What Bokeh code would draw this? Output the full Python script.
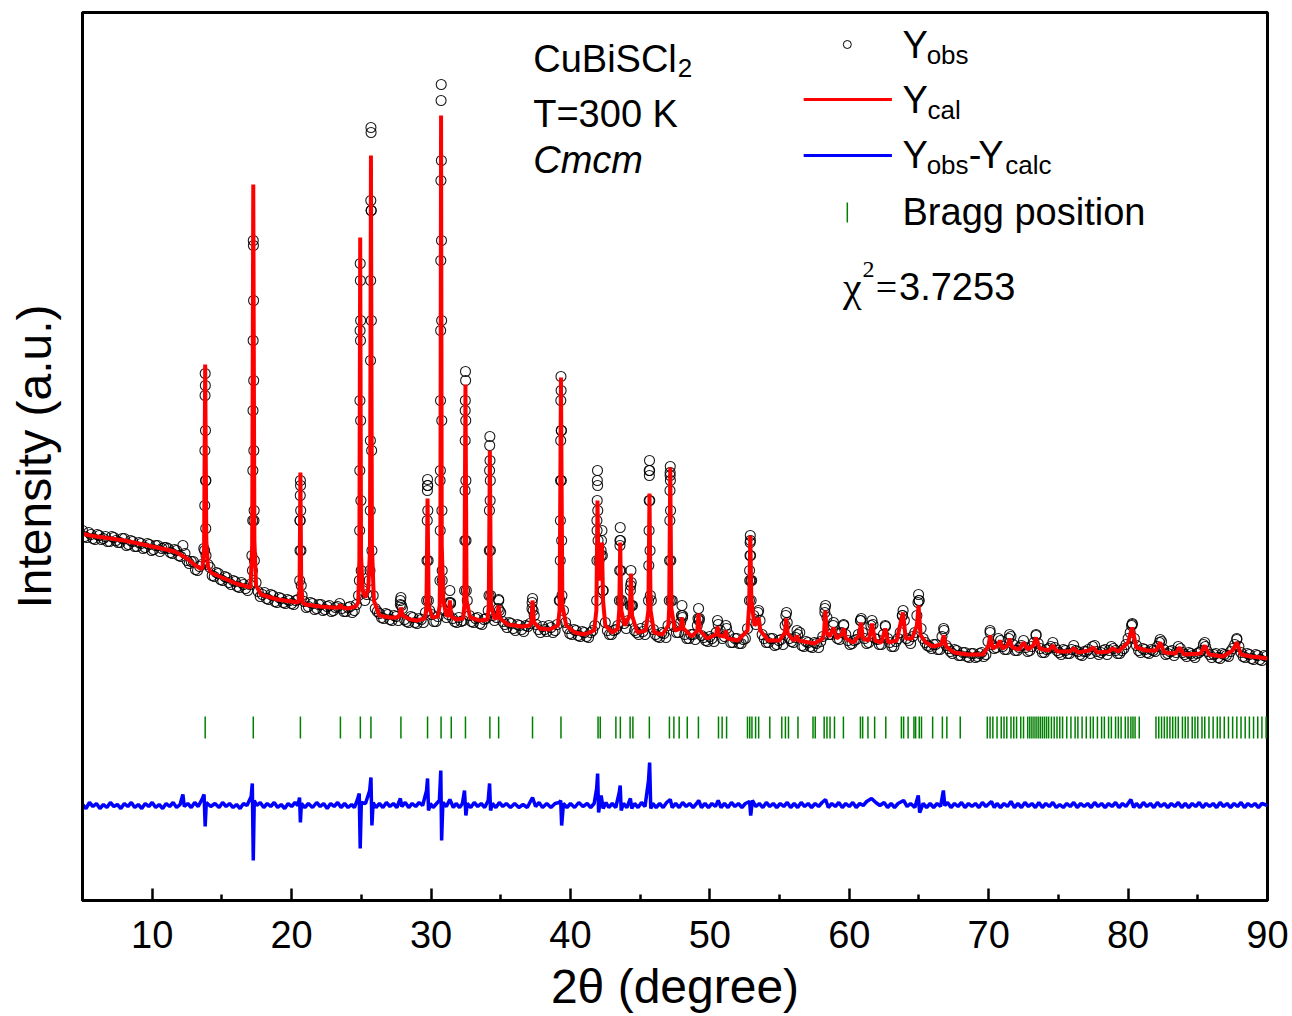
from bokeh.plotting import figure
from bokeh.models import Range1d, FixedTicker, Label
from bokeh.embed import file_html
from bokeh.resources import INLINE

SANS = "Liberation Sans"
SERIF = "Liberation Serif"

# ---------------- data ----------------
# observed step scan A (2theta start / step, intensities in a.u.)
scan_a_start = 5.0
scan_step = 0.3
y_obs_scan_a = [
    370, 363, 366, 361, 365, 362, 359, 364, 360, 358,
    362, 356, 359, 354, 357, 353, 356, 351, 355, 352,
    353, 348, 351, 345, 355, 340, 339, 331, 334, 352,
    336, 325, 328, 321, 324, 318, 320, 314, 318, 312,
    316, 380, 309, 306, 302, 306, 299, 303, 298, 301,
    297, 300, 380, 299, 294, 297, 292, 296, 291, 295,
    290, 294, 292, 289, 294, 290, 305, 310, 306, 690,
    292, 287, 282, 286, 280, 284, 300, 281, 278, 283,
    277, 281, 288, 290, 279, 284, 330, 283, 298, 279,
    283, 280, 300, 279, 282, 277, 281, 290, 285, 283,
    288, 276, 278, 272, 276, 271, 275, 277, 285, 271,
    274, 269, 273, 270, 300, 290, 272, 266, 270, 264,
    268, 263, 270, 380, 345, 278, 266, 270, 275, 300,
    272, 310, 270, 266, 269, 275, 300, 266, 263, 267,
    275, 300, 268, 278, 266, 262, 266, 275, 265, 260,
    264, 259, 276, 262, 272, 258, 262, 257, 261, 272,
    320, 276, 280, 262, 258, 262, 256, 261, 275, 262,
    258, 266, 255, 259, 254, 258, 253, 264, 283, 266,
    268, 261, 276, 260, 257, 261, 280, 262, 258, 276,
    261, 256, 274, 258, 254, 262, 285, 262, 257, 268,
    300, 262, 255, 252, 256, 251, 270, 252, 247, 250,
    245, 248, 243, 247, 244, 248, 246, 268, 252, 262,
    254, 251, 264, 250, 253, 260, 249, 254, 265, 252,
    248, 252, 258, 250, 246, 250, 247, 255, 249, 245,
    249, 247, 255, 246, 250, 246, 254, 250, 247, 252,
    262, 276, 255, 248, 251, 247, 250, 254, 259, 246,
    249, 245, 254, 248, 244, 247, 243, 248, 256, 249,
    243, 247, 242, 246, 244, 252, 261, 248, 243, 246,
    241, 245, 240, 244,
]

# observed step scan B (interleaved points, same step)
scan_b_start = 5.15
y_obs_scan_b = [
    364, 368, 362, 366, 361, 364, 359, 363, 358, 362,
    355, 360, 354, 358, 352, 357, 350, 355, 349, 353,
    352, 347, 350, 344, 347, 337, 339, 330, 336, 420,
    333, 324, 327, 320, 323, 316, 319, 313, 316, 310,
    345, 318, 304, 308, 301, 305, 298, 302, 297, 300,
    296, 301, 305, 293, 298, 291, 296, 290, 294, 289,
    293, 297, 289, 293, 288, 296, 580, 300, 320, 305,
    289, 283, 287, 281, 285, 280, 292, 279, 284, 278,
    282, 278, 415, 286, 279, 420, 290, 286, 282, 278,
    279, 490, 285, 278, 283, 276, 282, 420, 280, 301,
    279, 273, 277, 270, 275, 269, 274, 298, 276, 268,
    271, 275, 268, 276, 470, 278, 267, 271, 265, 269,
    264, 268, 275, 340, 310, 270, 266, 271, 360, 277,
    280, 295, 268, 272, 266, 430, 271, 264, 268, 263,
    425, 274, 268, 285, 262, 266, 261, 282, 263, 259,
    262, 268, 270, 264, 266, 258, 262, 257, 262, 330,
    285, 288, 266, 258, 262, 255, 260, 256, 278, 259,
    263, 268, 254, 258, 253, 257, 259, 288, 266, 275,
    262, 268, 266, 256, 260, 266, 268, 257, 275, 262,
    256, 266, 262, 254, 259, 268, 280, 260, 264, 285,
    272, 258, 254, 256, 251, 264, 255, 249, 251, 245,
    248, 244, 247, 243, 247, 244, 259, 256, 253, 260,
    251, 262, 256, 250, 255, 253, 250, 258, 257, 248,
    251, 254, 253, 248, 251, 247, 251, 250, 246, 249,
    251, 254, 249, 248, 251, 250, 252, 247, 250, 256,
    268, 262, 250, 252, 248, 251, 249, 258, 251, 247,
    250, 248, 252, 246, 248, 245, 247, 250, 254, 246,
    246, 243, 247, 245, 249, 256, 254, 244, 247, 242,
    246, 241, 245,
]

# observed points on the Bragg peaks (2theta, intensity)
obs_peak_points = [
    (13.76, 350), (13.77, 395), (13.78, 450), (13.79, 505), (13.80, 527), (13.81, 515),
    (13.82, 470), (13.83, 420), (13.84, 372), (13.86, 345),
    (17.19, 330), (17.21, 380), (17.22, 430), (17.23, 490), (17.24, 560), (17.25, 660),
    (17.26, 655), (17.27, 600), (17.28, 520), (17.29, 450), (17.31, 390), (17.33, 340),
    (20.58, 320), (20.60, 350), (20.61, 380), (20.62, 405), (20.63, 420), (20.64, 415),
    (20.65, 390), (20.67, 350), (20.69, 315),
    (24.86, 320), (24.88, 370), (24.89, 430), (24.90, 500), (24.91, 570), (24.92, 637),
    (24.93, 620), (24.94, 560), (24.95, 480), (24.97, 400), (24.99, 330),
    (25.62, 330), (25.64, 390), (25.65, 460), (25.66, 540), (25.67, 620), (25.68, 700),
    (25.69, 773), (25.70, 768), (25.71, 690), (25.72, 580), (25.74, 450), (25.76, 350),
    (27.80, 296), (27.84, 303), (27.88, 295),
    (29.69, 300), (29.71, 340), (29.73, 380), (29.74, 410), (29.75, 421), (29.76, 415),
    (29.77, 390), (29.79, 340), (29.81, 300),
    (30.64, 320), (30.66, 370), (30.67, 430), (30.68, 500), (30.69, 570), (30.70, 640),
    (30.71, 720), (30.72, 800), (30.73, 816), (30.74, 740), (30.75, 660), (30.76, 580),
    (30.77, 480), (30.78, 390), (30.80, 320),
    (31.30, 298), (31.35, 310), (31.40, 297),
    (32.41, 310), (32.43, 360), (32.44, 410), (32.45, 460), (32.46, 500), (32.47, 529),
    (32.48, 520), (32.49, 480), (32.50, 420), (32.51, 360), (32.53, 310),
    (34.16, 305), (34.18, 350), (34.19, 390), (34.20, 430), (34.21, 455), (34.22, 464),
    (34.23, 440), (34.24, 400), (34.26, 350), (34.28, 305),
    (34.82, 292), (34.86, 300), (34.90, 290),
    (37.24, 292), (37.28, 302), (37.32, 290),
    (39.25, 300), (39.27, 340), (39.28, 380), (39.29, 420), (39.30, 460), (39.31, 500),
    (39.32, 524), (39.33, 510), (39.34, 470), (39.35, 420), (39.37, 360), (39.39, 305),
    (41.88, 300), (41.90, 340), (41.91, 370), (41.92, 400), (41.93, 420), (41.94, 430),
    (41.95, 415), (41.96, 390), (41.98, 360),
    (42.20, 350), (42.23, 360), (42.26, 370), (42.29, 345), (42.32, 310),
    (43.51, 300), (43.53, 330), (43.55, 355), (43.57, 373), (43.59, 360), (43.61, 330), (43.63, 300),
    (44.29, 295), (44.32, 315), (44.34, 330), (44.36, 318), (44.39, 295),
    (45.60, 300), (45.62, 335), (45.64, 370), (45.65, 400), (45.66, 425), (45.67, 440),
    (45.68, 430), (45.69, 400), (45.71, 350), (45.73, 305),
    (47.09, 300), (47.11, 340), (47.13, 380), (47.14, 410), (47.15, 428), (47.16, 434),
    (47.17, 420), (47.18, 390), (47.20, 340), (47.22, 300),
    (47.96, 285), (48.00, 295), (48.04, 283),
    (49.15, 282), (49.19, 292), (49.23, 280),
    (50.55, 280), (51.15, 275),
    (52.84, 300), (52.86, 320), (52.88, 345), (52.89, 358), (52.90, 365), (52.91, 360),
    (52.92, 345), (52.94, 320), (52.96, 300),
    (53.50, 290), (55.45, 285), (55.50, 288), (56.25, 270),
    (58.25, 292), (58.30, 295), (58.87, 278), (59.60, 275), (60.82, 280), (60.86, 282),
    (61.63, 280), (62.58, 275), (63.82, 285), (63.86, 290),
    (64.93, 298), (64.97, 306), (65.01, 300), (66.77, 272),
    (70.10, 270), (71.50, 266), (73.40, 266), (80.25, 275), (80.30, 277),
    (82.30, 261), (85.50, 258), (87.80, 262),
]

# calculated profile (2theta, intensity)
calc_profile = [
    (5.0, 367), (5.5, 365), (6.0, 364), (7.0, 362), (8.0, 360), (9.0, 357), (10.0, 354),
    (11.0, 351), (11.6, 349), (12.0, 346), (12.5, 342), (13.0, 336), (13.45, 332),
    (13.6, 332), (13.72, 352), (13.80, 536), (13.88, 360), (14.0, 334), (14.2, 328),
    (15.0, 323), (16.0, 317), (16.8, 314),
    (17.05, 313), (17.17, 355), (17.25, 716), (17.33, 360), (17.45, 315), (17.8, 306),
    (18.5, 303), (19.0, 301), (20.0, 299), (20.4, 298),
    (20.5, 299), (20.57, 312), (20.63, 428), (20.69, 315), (20.8, 298), (21.0, 296),
    (22.0, 294), (23.0, 293), (23.4, 293), (23.5, 296), (23.6, 293), (24.0, 292), (24.6, 294),
    (24.78, 298), (24.86, 340), (24.92, 663), (24.98, 345), (25.1, 310), (25.3, 303),
    (25.5, 312), (25.62, 350), (25.69, 745), (25.76, 355), (25.9, 300), (26.3, 285),
    (27.0, 283), (27.6, 283), (27.75, 286), (27.84, 293), (27.95, 285), (28.5, 281),
    (29.0, 280), (29.55, 282), (29.67, 292), (29.75, 402), (29.83, 295), (30.1, 283),
    (30.5, 284), (30.62, 295), (30.67, 350), (30.72, 785), (30.77, 355), (30.88, 300),
    (31.1, 285), (31.27, 285), (31.35, 300), (31.45, 284), (31.8, 281), (32.3, 282),
    (32.39, 295), (32.47, 516), (32.55, 300), (32.8, 283), (33.5, 280), (34.05, 281),
    (34.14, 293), (34.22, 450), (34.3, 296), (34.55, 282), (34.75, 283), (34.85, 295),
    (34.95, 282), (35.5, 276), (36.5, 274), (37.1, 275), (37.2, 280), (37.28, 300),
    (37.38, 278), (37.8, 272), (38.5, 271), (39.1, 275), (39.22, 290), (39.32, 523),
    (39.42, 295), (39.7, 275), (40.3, 268), (41.0, 266), (41.7, 270),
    (41.86, 290), (41.94, 400), (42.02, 320), (42.1, 330), (42.18, 345), (42.26, 358),
    (42.34, 300), (42.5, 275), (43.0, 268), (43.4, 272), (43.5, 290), (43.57, 358),
    (43.65, 290), (43.9, 275), (44.25, 285), (44.34, 327), (44.42, 285), (44.8, 268),
    (45.4, 270), (45.59, 290), (45.67, 407), (45.75, 290), (46.0, 268), (46.6, 266),
    (47.02, 275), (47.08, 292), (47.16, 433), (47.24, 292), (47.5, 270), (47.9, 272),
    (48.0, 283), (48.1, 272), (48.7, 264), (49.1, 270), (49.19, 287), (49.28, 270),
    (49.8, 262), (50.45, 266), (50.55, 274), (50.65, 265), (51.05, 264), (51.15, 270),
    (51.25, 262), (52.0, 260), (52.7, 270), (52.82, 295), (52.9, 365), (52.98, 300),
    (53.2, 275), (53.4, 278), (53.5, 283), (53.62, 270), (54.2, 260), (55.0, 260),
    (55.38, 268), (55.48, 282), (55.58, 267), (56.0, 260), (56.15, 262), (56.25, 265),
    (56.35, 260), (57.5, 257), (58.1, 262), (58.2, 270), (58.28, 290), (58.38, 268),
    (58.6, 264), (58.87, 273), (59.1, 262), (59.45, 266), (59.6, 272), (59.75, 262),
    (60.3, 258), (60.7, 265), (60.84, 278), (60.98, 262), (61.4, 260), (61.63, 277),
    (61.85, 260), (62.3, 258), (62.58, 272), (62.8, 258), (63.4, 260), (63.85, 288),
    (64.05, 262), (64.5, 262), (64.85, 275), (64.97, 295), (65.12, 265), (65.5, 258),
    (66.0, 254), (66.6, 256), (66.77, 265), (66.95, 254), (67.5, 248), (68.5, 246),
    (69.6, 246), (70.0, 255), (70.1, 265), (70.3, 252), (70.65, 255), (70.8, 260),
    (71.0, 252), (71.35, 255), (71.5, 262), (71.7, 253), (72.2, 251), (72.5, 258),
    (72.8, 251), (73.2, 255), (73.4, 263), (73.65, 252), (74.3, 250), (74.6, 255),
    (74.9, 249), (75.8, 249), (76.1, 252), (76.4, 248), (77.2, 250), (77.5, 253),
    (77.8, 248), (78.6, 249), (78.9, 252), (79.3, 249), (80.0, 258), (80.28, 273),
    (80.6, 253), (81.3, 250), (82.0, 250), (82.3, 258), (82.6, 248), (83.4, 247),
    (83.7, 253), (84.0, 246), (85.2, 247), (85.5, 255), (85.8, 246), (86.8, 244),
    (87.5, 250), (87.8, 258), (88.1, 246), (88.8, 244), (89.5, 243), (90.0, 242),
]

# difference curve Yobs - Ycalc (offset, 2theta, intensity)
diff_profile = [
    (5.0, 96), (5.25, 92), (5.5, 98), (5.75, 94), (6.0, 97), (6.25, 92), (6.5, 96),
    (6.75, 93), (7.0, 98), (7.25, 94), (7.5, 96), (7.75, 92), (8.0, 97), (8.25, 94),
    (8.5, 98), (8.75, 93), (9.0, 96), (9.25, 92), (9.5, 97), (9.75, 94), (10.0, 98),
    (10.25, 93), (10.5, 96), (10.75, 92), (11.0, 97), (11.25, 94), (11.5, 98), (11.75, 93),
    (12.0, 96), (12.2, 106), (12.3, 94), (12.55, 97), (12.8, 93), (13.05, 98), (13.3, 94),
    (13.6, 102), (13.72, 106), (13.8, 74), (13.88, 98), (14.2, 94), (14.5, 97),
    (14.8, 93), (15.05, 98), (15.3, 94), (15.55, 97), (15.8, 93), (16.05, 96), (16.3, 92),
    (16.55, 97), (16.8, 95), (17.1, 104), (17.18, 117), (17.25, 40), (17.32, 100),
    (17.5, 95), (17.75, 98), (18.0, 93), (18.25, 97), (18.5, 94), (18.75, 98), (19.0, 93),
    (19.25, 96), (19.5, 92), (19.75, 97), (20.0, 94), (20.25, 98), (20.45, 95),
    (20.57, 103), (20.63, 78), (20.7, 97), (20.95, 93), (21.2, 97), (21.5, 93),
    (21.8, 98), (22.05, 94), (22.3, 97), (22.55, 92), (22.8, 97), (23.05, 94), (23.3, 98),
    (23.55, 93), (23.8, 97), (24.05, 93), (24.3, 96), (24.5, 93), (24.7, 100),
    (24.85, 107), (24.92, 52), (25.0, 98), (25.3, 97), (25.6, 110), (25.69, 123),
    (25.76, 75), (25.85, 98), (26.05, 93), (26.3, 97), (26.55, 93), (26.8, 98),
    (27.05, 94), (27.3, 97), (27.55, 93), (27.8, 102), (27.9, 94), (28.15, 98),
    (28.4, 93), (28.65, 97), (28.9, 94), (29.15, 98), (29.4, 95), (29.68, 110),
    (29.75, 122), (29.82, 90), (29.95, 97), (30.15, 93), (30.4, 97), (30.6, 100),
    (30.7, 130), (30.76, 60), (30.85, 98), (31.1, 94), (31.35, 101), (31.6, 93),
    (31.8, 97), (32.05, 93), (32.25, 97), (32.4, 110), (32.5, 85), (32.6, 97),
    (32.85, 93), (33.1, 98), (33.35, 94), (33.6, 97), (33.85, 93), (34.1, 100),
    (34.2, 117), (34.27, 90), (34.4, 97), (34.65, 93), (34.9, 98), (35.15, 94),
    (35.4, 97), (35.7, 93), (36.0, 97), (36.3, 93), (36.6, 96), (36.9, 93), (37.28, 103),
    (37.5, 94), (37.75, 98), (38.0, 93), (38.3, 97), (38.6, 93), (38.9, 97), (39.2, 98),
    (39.3, 100), (39.37, 75), (39.5, 97), (39.75, 93), (40.0, 97), (40.3, 93), (40.6, 98),
    (40.9, 94), (41.2, 97), (41.45, 93), (41.7, 97), (41.88, 112), (41.95, 127),
    (42.02, 88), (42.2, 105), (42.35, 92), (42.55, 98), (42.75, 93), (43.0, 97),
    (43.25, 93), (43.5, 108), (43.57, 115), (43.64, 90), (43.8, 97), (44.05, 93),
    (44.3, 102), (44.4, 92), (44.6, 97), (44.85, 93), (45.1, 98), (45.35, 94),
    (45.6, 120), (45.68, 138), (45.76, 92), (45.9, 97), (46.15, 93), (46.4, 97),
    (46.65, 93), (46.9, 98), (47.16, 101), (47.3, 93), (47.55, 97), (47.8, 93),
    (48.05, 98), (48.3, 94), (48.55, 97), (48.8, 93), (49.05, 97), (49.2, 100),
    (49.4, 93), (49.65, 97), (49.9, 93), (50.15, 97), (50.4, 94), (50.6, 100),
    (50.8, 93), (51.05, 97), (51.3, 93), (51.55, 98), (51.8, 94), (52.05, 97),
    (52.3, 93), (52.55, 97), (52.85, 99), (52.93, 85), (53.05, 100), (53.3, 94),
    (53.55, 97), (53.8, 93), (54.05, 98), (54.3, 94), (54.55, 97), (54.8, 93),
    (55.05, 97), (55.3, 94), (55.55, 98), (55.8, 93), (56.05, 97), (56.3, 93),
    (56.55, 98), (56.8, 94), (57.05, 97), (57.3, 93), (57.55, 97), (57.8, 94),
    (58.05, 98), (58.3, 101), (58.5, 93), (58.75, 97), (59.0, 94), (59.25, 98),
    (59.5, 93), (59.75, 97), (60.0, 94), (60.25, 98), (60.5, 93), (60.75, 97),
    (61.0, 95), (61.25, 99), (61.6, 102), (61.9, 98), (62.2, 95), (62.5, 98),
    (62.75, 93), (63.0, 97), (63.25, 93), (63.5, 97), (63.9, 100), (64.15, 94),
    (64.4, 97), (64.7, 93), (64.95, 105), (65.05, 88), (65.3, 97), (65.55, 93),
    (65.8, 97), (66.05, 93), (66.3, 97), (66.55, 94), (66.75, 110), (66.85, 95),
    (67.05, 98), (67.3, 93), (67.55, 97), (67.8, 94), (68.05, 98), (68.3, 93),
    (68.55, 97), (68.8, 94), (69.05, 97), (69.3, 93), (69.55, 98), (69.8, 94),
    (70.2, 99), (70.4, 93), (70.6, 97), (70.85, 93), (71.1, 97), (71.35, 94),
    (71.6, 99), (71.85, 93), (72.1, 97), (72.35, 93), (72.6, 98), (72.85, 94),
    (73.1, 97), (73.35, 93), (73.6, 98), (73.85, 93), (74.1, 97), (74.35, 94),
    (74.6, 98), (74.85, 93), (75.1, 96), (75.35, 93), (75.6, 97), (75.85, 94),
    (76.1, 98), (76.35, 93), (76.6, 97), (76.85, 94), (77.1, 97), (77.35, 93),
    (77.6, 98), (77.85, 94), (78.1, 97), (78.35, 93), (78.6, 97), (78.85, 94),
    (79.1, 98), (79.35, 93), (79.6, 97), (79.85, 94), (80.2, 101), (80.4, 93),
    (80.6, 97), (80.85, 93), (81.1, 98), (81.35, 94), (81.6, 97), (81.85, 93),
    (82.1, 98), (82.35, 94), (82.6, 97), (82.85, 93), (83.1, 97), (83.35, 94),
    (83.6, 98), (83.85, 93), (84.1, 97), (84.35, 93), (84.6, 97), (84.85, 94),
    (85.1, 98), (85.35, 93), (85.6, 97), (85.85, 94), (86.1, 97), (86.35, 93),
    (86.6, 98), (86.85, 94), (87.1, 97), (87.35, 93), (87.6, 97), (87.85, 94),
    (88.1, 98), (88.35, 93), (88.6, 97), (88.85, 94), (89.1, 97), (89.35, 93),
    (89.6, 97), (90.0, 95),
]

# Bragg reflection positions (2theta)
bragg_positions = [
    13.8, 17.25, 20.63, 23.5, 24.93, 25.69, 27.84, 29.75, 30.72, 31.45, 32.47, 34.22,
    34.85, 37.28, 39.32, 41.98, 42.14, 43.26, 43.58, 44.28, 44.48, 45.66, 47.1, 47.42,
    47.8, 48.38, 49.18, 50.62, 50.88, 51.2, 52.7, 52.86, 53.02, 53.28, 53.5, 54.3,
    55.16, 55.42, 55.64, 56.32, 57.4, 57.56, 58.2, 58.4, 58.62, 58.94, 59.58, 60.8,
    60.96, 61.34, 61.82, 62.62, 63.74, 63.9, 64.22, 64.64, 64.76, 65.02, 65.18, 65.98,
    66.68, 67.0, 67.96,
    69.9, 70.1, 70.3, 70.6, 70.9, 71.1, 71.3, 71.6, 71.8, 72.0, 72.3, 72.5, 72.8, 72.95,
    73.1, 73.25, 73.4, 73.55, 73.7, 73.85, 74.0, 74.15, 74.3, 74.5, 74.7, 74.9, 75.1,
    75.3, 75.6, 75.9, 76.2, 76.4, 76.7, 77.0, 77.3, 77.5, 77.8, 78.1, 78.3, 78.6, 78.8,
    79.1, 79.3, 79.5, 79.8, 80.0, 80.2, 80.35, 80.5, 80.8,
    82.0, 82.2, 82.4, 82.6, 82.8, 83.0, 83.2, 83.4, 83.6, 83.9, 84.1, 84.3, 84.6, 84.8,
    85.0, 85.3, 85.5, 85.8, 86.1, 86.4, 86.6, 86.9, 87.2, 87.5, 87.8, 88.1, 88.4, 88.7,
    89.0, 89.3, 89.6, 89.9,
]

x_major_ticks = [10, 20, 30, 40, 50, 60, 70, 80, 90]
x_minor_ticks = [15, 25, 35, 45, 55, 65, 75, 85]

# ---------------- build columns ----------------
scan_a_x = [round(scan_a_start + i * scan_step, 2) for i in range(len(y_obs_scan_a))]
scan_b_x = [round(scan_b_start + i * scan_step, 2) for i in range(len(y_obs_scan_b))]
obs_x = scan_a_x + scan_b_x + [pt[0] for pt in obs_peak_points]
obs_y = list(y_obs_scan_a) + list(y_obs_scan_b) + [pt[1] for pt in obs_peak_points]
calc_x = [pt[0] for pt in calc_profile]
calc_y = [pt[1] for pt in calc_profile]
diff_x = [pt[0] for pt in diff_profile]
diff_y = [pt[1] for pt in diff_profile]

# ---------------- figure ----------------
p = figure(width=1292, height=1016, output_backend="svg", toolbar_location=None,
           x_range=Range1d(5, 90), y_range=Range1d(0, 888),
           min_border_left=82, min_border_right=25, min_border_top=12,
           min_border_bottom=116)
p.xgrid.visible = False
p.ygrid.visible = False
p.background_fill_color = "white"
p.border_fill_color = "white"
p.outline_line_color = "black"
p.outline_line_width = 3

ax = p.xaxis[0]
ax.ticker = FixedTicker(ticks=x_major_ticks, minor_ticks=x_minor_ticks)
ax.axis_line_width = 3
ax.axis_line_color = "black"
ax.major_tick_in = 12
ax.major_tick_out = 0
ax.minor_tick_in = 6
ax.minor_tick_out = 0
ax.major_tick_line_width = 2.5
ax.minor_tick_line_width = 2.5
ax.major_tick_line_color = "black"
ax.minor_tick_line_color = "black"
ax.major_label_text_font = SANS
ax.major_label_text_font_size = "38px"
ax.major_label_text_color = "black"
ax.major_label_standoff = 20
ax.axis_label = "2θ (degree)"
ax.axis_label_text_font = SANS
ax.axis_label_text_font_size = "48px"
ax.axis_label_text_font_style = "normal"
ax.axis_label_text_color = "black"
ax.axis_label_standoff = 9

ay = p.yaxis[0]
ay.ticker = FixedTicker(ticks=[])
ay.axis_line_width = 3
ay.axis_line_color = "black"
ay.major_tick_line_color = None
ay.minor_tick_line_color = None
ay.major_tick_out = 0
ay.major_label_standoff = 0
ay.major_label_text_font_size = "0px"
ay.axis_label = "Intensity (a.u.)"
ay.axis_label_text_font = SANS
ay.axis_label_text_font_size = "48px"
ay.axis_label_text_font_style = "normal"
ay.axis_label_text_color = "black"
ay.axis_label_standoff = 22

# data renderers
p.scatter(obs_x, obs_y, marker="circle", size=10, fill_color=None,
          line_color="black", line_width=1.1, line_alpha=0.9)
p.line(calc_x, calc_y, line_color="#ff0000", line_width=4)
p.line(diff_x, diff_y, line_color="#0000ff", line_width=3.5)
n_b = len(bragg_positions)
p.segment(x0=bragg_positions, y0=[162] * n_b, x1=bragg_positions, y1=[184] * n_b,
          line_color="#008000", line_width=1.5)

# legend swatches
p.scatter([59.86], [856], marker="circle", size=8, fill_color=None,
          line_color="black", line_width=1)
p.line([56.73, 63.06], [801, 801], line_color="#ff0000", line_width=3)
p.line([56.73, 63.06], [745, 745], line_color="#0000ff", line_width=3)
p.segment(x0=[59.86], y0=[678], x1=[59.86], y1=[698], line_color="#008000", line_width=1.5)


def lab(x, y, text, size="38px", font=SANS, style="normal"):
    p.add_layout(Label(x=x, y=y, text=text, text_font=font, text_font_size=size,
                       text_font_style=style, text_color="black",
                       text_align="left", text_baseline="alphabetic"))


# sample annotation
lab(37.33, 842, "CuBiSCl")
lab(47.69, 833, "2", size="26px")
lab(37.33, 787, "T=300 K")
lab(37.33, 741, "Cmcm", style="italic")

# legend texts
lab(63.82, 856, "Y")
lab(65.55, 846, "obs", size="26px")
lab(63.82, 801, "Y")
lab(65.62, 791, "cal", size="26px")
lab(63.82, 746, "Y")
lab(65.55, 736, "obs", size="26px")
lab(68.57, 746, "-")
lab(69.26, 746, "Y")
lab(71.19, 736, "calc", size="26px")
lab(63.82, 689, "Bragg position")

# chi^2
lab(59.55, 614, "χ", size="42px", font=SERIF)
lab(60.95, 631, "2", size="24px", font=SERIF)
lab(61.9, 614, "=", font=SERIF)
lab(63.57, 614, "3.7253")

open("out.html", "w").write(file_html(p, INLINE))
